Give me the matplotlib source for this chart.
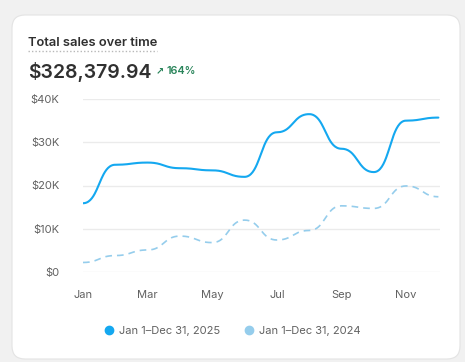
import numpy as np
import matplotlib.pyplot as plt
from matplotlib.patches import FancyBboxPatch
from matplotlib.lines import Line2D

plt.rcParams['font.family'] = ['Inter', 'DejaVu Sans']

months = ['Jan', 'Feb', 'Mar', 'Apr', 'May', 'Jun',
          'Jul', 'Aug', 'Sep', 'Oct', 'Nov', 'Dec']
sales_2025 = [15900, 24800, 25300, 24000, 23500, 22000,
              32300, 36500, 28500, 23100, 35000, 35700]
sales_2024 = [2200, 3800, 5100, 8300, 6800, 12000,
              7400, 9600, 15300, 14700, 19900, 17400]
tick_months = ['Jan', 'Mar', 'May', 'Jul', 'Sep', 'Nov']
label_2025 = 'Jan 1–Dec 31, 2025'
label_2024 = 'Jan 1–Dec 31, 2024'
total = '$328,379.94'
change = '164%'

W, H = 465, 362


def bump(xs, ys, n=40):
    # horizontal-tangent bezier between points (like d3 curveBumpX)
    px, py = [], []
    for i in range(len(xs) - 1):
        x0, x1 = xs[i], xs[i + 1]
        y0, y1 = ys[i], ys[i + 1]
        xm = (x0 + x1) / 2
        t = np.linspace(0, 1, n, endpoint=False)
        a, b, c, d = (1 - t)**3, 3 * (1 - t)**2 * t, 3 * (1 - t) * t**2, t**3
        px.append(a * x0 + (b + c) * xm + d * x1)
        py.append((a + b) * y0 + (c + d) * y1)
    px.append([xs[-1]])
    py.append([ys[-1]])
    return np.concatenate(px), np.concatenate(py)


fig = plt.figure(figsize=(W / 100, H / 100), dpi=100)
fig.patch.set_facecolor('#f1f1f1')

card = FancyBboxPatch((12 / W, 1 - 359 / H), 448 / W, 344 / H,
                      boxstyle='round,pad=0,rounding_size=0.028',
                      transform=fig.transFigure, facecolor='white',
                      edgecolor='#e3e3e3', linewidth=0.8, mutation_aspect=W / H,
                      zorder=-5)
fig.add_artist(card)

fig.text(28 / W, 1 - 46 / H, 'Total sales over time', fontsize=9.3,
         fontweight='semibold', color='#303030', ha='left', va='baseline')
fig.add_artist(Line2D([28 / W, 157 / W], [1 - 50.5 / H, 1 - 50.5 / H],
                      transform=fig.transFigure, color='#b8b8b8',
                      linewidth=1, linestyle=(0, (1, 1.5))))
fig.text(28 / W, 1 - 77.5 / H, total, fontsize=14.0, fontweight='semibold',
         color='#303030', ha='left', va='baseline')
fig.text(156 / W, 1 - 74.5 / H, '↗', fontsize=7, fontweight='bold',
         color='#29845a', ha='left', va='baseline', family=['DejaVu Sans'])
fig.text(166 / W, 1 - 74.5 / H, change, fontsize=7.8, fontweight='semibold',
         color='#29845a', ha='left', va='baseline')

ax = fig.add_axes([83 / W, 1 - 272 / H, (440 - 83) / W, (272 - 99) / H])
x = np.arange(len(months))
xs, ys = bump(x, sales_2024)
ax.plot(xs, ys, color='#95cdec', linewidth=1.2, linestyle=(0, (4, 3)), zorder=2)
xs, ys = bump(x, sales_2025)
ax.plot(xs, ys, color='#14a8f0', linewidth=1.5, zorder=3,
        solid_capstyle='round')

ax.set_xlim(0, 11.05)
ax.set_ylim(0, 40000)
ax.set_yticks([0, 10000, 20000, 30000, 40000])
ax.set_yticklabels(['$0', '$10K', '$20K', '$30K', '$40K'])
ax.set_xticks([months.index(m) for m in tick_months])
ax.set_xticklabels(tick_months)
ax.grid(axis='y', color='#ebebeb', linewidth=1)
ax.set_axisbelow(True)
for sp in ax.spines.values():
    sp.set_visible(False)
ax.tick_params(axis='both', length=0, labelsize=8, labelcolor='#616161')
ax.tick_params(axis='y', pad=17)
ax.tick_params(axis='x', pad=13)
ax.set_facecolor('none')

handles = [Line2D([], [], marker='o', linestyle='none', markersize=6,
                  color='#14a8f0'),
           Line2D([], [], marker='o', linestyle='none', markersize=6,
                  color='#95cdec')]
fig.legend(handles, [label_2025, label_2024], loc='center',
           bbox_to_anchor=(233 / W, 1 - 331 / H), ncol=2, frameon=False,
           fontsize=8, labelcolor='#616161', handlelength=0.8,
           handletextpad=0.5, columnspacing=2.2)

fig.savefig('out.png', dpi=100, facecolor=fig.get_facecolor())
